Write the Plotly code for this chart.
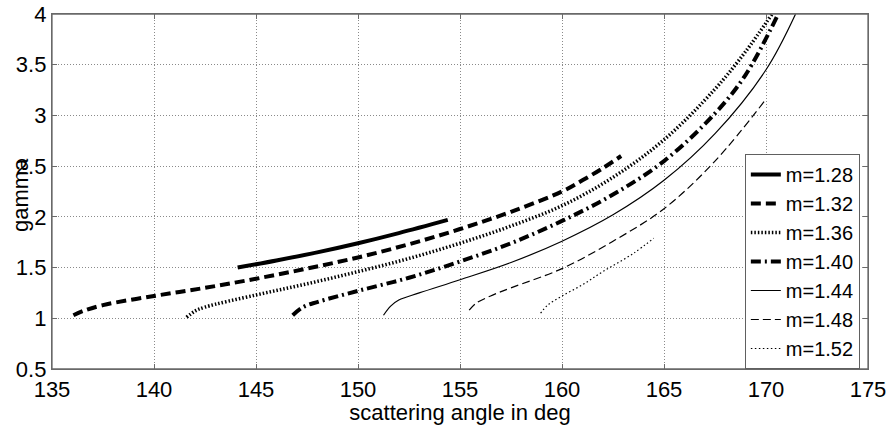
import plotly.graph_objects as go

x_128 = [144.1, 146.0, 148.0, 150.0, 152.0, 154.4]
y_128 = [1.50, 1.57, 1.65, 1.74, 1.84, 1.97]

x_132 = [136.05, 136.5, 137.5, 140.0, 142.5, 145.0, 147.5, 150.0, 152.5, 155.0, 157.5, 160.0, 161.0, 162.0, 162.9]
y_132 = [1.03, 1.07, 1.13, 1.22, 1.30, 1.39, 1.49, 1.60, 1.73, 1.88, 2.05, 2.25, 2.36, 2.48, 2.60]

x_136 = [141.6, 142.0, 142.5, 145.0, 147.5, 150.0, 152.5, 155.0, 157.5, 160.0, 162.5, 165.0, 167.5, 169.0, 170.3]
y_136 = [1.01, 1.07, 1.11, 1.23, 1.34, 1.46, 1.59, 1.74, 1.91, 2.11, 2.39, 2.76, 3.26, 3.63, 4.0]

x_140 = [146.8, 147.3, 148.0, 150.0, 152.5, 155.0, 157.5, 160.0, 162.5, 165.0, 167.5, 169.0, 170.6]
y_140 = [1.03, 1.11, 1.16, 1.27, 1.40, 1.56, 1.74, 1.96, 2.22, 2.55, 3.02, 3.40, 4.0]

x_144 = [151.25, 151.6, 152.0, 153.0, 155.0, 157.5, 160.0, 162.5, 165.0, 167.5, 170.0, 171.45]
y_144 = [1.03, 1.12, 1.18, 1.25, 1.38, 1.55, 1.76, 2.02, 2.36, 2.82, 3.45, 4.0]

x_148 = [155.45, 155.8, 156.5, 157.5, 160.0, 162.5, 165.0, 167.5, 170.0]
y_148 = [1.08, 1.15, 1.22, 1.30, 1.49, 1.76, 2.08, 2.55, 3.16]

x_152 = [158.95, 159.3, 160.0, 161.0, 162.0, 163.5, 164.5]
y_152 = [1.05, 1.13, 1.22, 1.33, 1.46, 1.64, 1.79]

names = ["m=1.28", "m=1.32", "m=1.36", "m=1.40", "m=1.44", "m=1.48", "m=1.52"]
xs = [x_128, x_132, x_136, x_140, x_144, x_148, x_152]
ys = [y_128, y_132, y_136, y_140, y_144, y_148, y_152]
widths = [4, 4, 3.5, 4, 1.2, 1.2, 1.2]
dashes = ["solid", "10px,5px", "1.5px,2px", "10px,4px,2px,4px", "solid", "8px,4px", "1.5px,2.5px"]

x_ticks = [135, 140, 145, 150, 155, 160, 165, 170, 175]
y_ticks = [0.5, 1, 1.5, 2, 2.5, 3, 3.5, 4]

fig = go.Figure()
for n, xv, yv, w, d in zip(names, xs, ys, widths, dashes):
    fig.add_trace(go.Scatter(x=xv, y=yv, mode="lines", name=n,
                             line=dict(color="black", width=w, dash=d, shape="spline", smoothing=1.0)))

font_main = "Liberation Sans, Arial, sans-serif"
axis_common = dict(showgrid=True, gridcolor="#8a8a8a", griddash="1px,2px", gridwidth=1,
                   showline=True, linecolor="#6a6a6a", linewidth=1.3, mirror="all",
                   ticks="inside", ticklen=5, tickcolor="#6a6a6a", zeroline=False,
                   automargin=False, ticklabeloverflow="allow",
                   tickfont=dict(family=font_main, size=22, color="black"))

fig.update_xaxes(range=[135, 175], tickvals=x_ticks, ticktext=[str(t) for t in x_ticks],
                 title=dict(text="scattering angle in deg", font=dict(family=font_main, size=22, color="black"), standoff=1),
                 **axis_common)
fig.update_yaxes(range=[0.5, 4], tickvals=y_ticks, ticktext=["0.5", "1", "1.5", "2", "2.5", "3", "3.5", "4"],
                 **axis_common)

fig.add_annotation(text="gamma", textangle=-90, xref="paper", yref="paper", x=0, y=0.49,
                   xanchor="center", yanchor="middle",
                   xshift=-32, showarrow=False, font=dict(family=font_main, size=22, color="black"))

# axes box frame
fig.add_shape(type="rect", xref="paper", yref="paper", x0=0, y0=0, x1=1, y1=1,
              line=dict(color="#6a6a6a", width=1.3), fillcolor="rgba(0,0,0,0)", layer="above")

fig.update_layout(
    width=891, height=425,
    margin=dict(l=52, r=23, t=14, b=56, autoexpand=False),
    paper_bgcolor="white", plot_bgcolor="white",
    showlegend=True,
    legend=dict(x=0.99, y=0.6056, xanchor="right", yanchor="top",
                bgcolor="white", bordercolor="#606060", borderwidth=1,
                font=dict(family=font_main, size=20, color="black"),
                tracegroupgap=0, itemwidth=30),
)

# remove the default 8px page margin so the figure fills the 891x425 window exactly
fig.write_html("out.html", config={"displayModeBar": False},
               post_script="document.body.style.margin='0';document.body.style.overflow='hidden';")
